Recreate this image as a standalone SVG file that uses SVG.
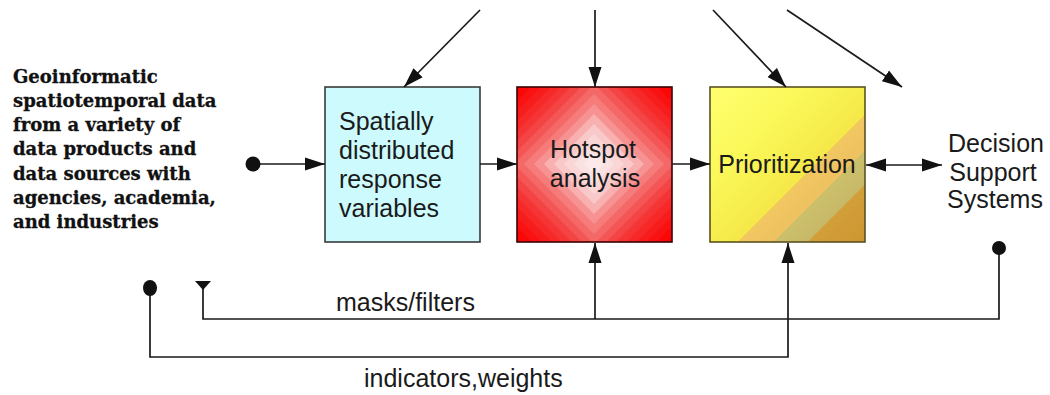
<svg xmlns="http://www.w3.org/2000/svg" width="1050" height="395" viewBox="0 0 1050 395">
  <style>
    .lbl { font-family: "Liberation Sans", Arial, sans-serif; font-size: 25px; fill: #1a1a1a; }
    .src { font-family: "DejaVu Serif", "Liberation Serif", serif; font-weight: bold; font-size: 18px; fill: #111; stroke: #111; stroke-width: 0.3; }
    .wire { fill: none; stroke: #1a1a1a; stroke-width: 1.7; }
    .box { stroke-width: 1.6; }
  </style>
  <defs>
    <marker id="arrow" markerUnits="userSpaceOnUse" markerWidth="21" markerHeight="14" refX="20" refY="7" orient="auto-start-reverse">
      <path d="M0,0.5 L20,7 L0,13.5 Z" fill="#111"/>
    </marker>
    <marker id="dot" markerUnits="userSpaceOnUse" markerWidth="18" markerHeight="18" refX="9" refY="9" orient="auto">
      <circle cx="9" cy="9" r="7.5" fill="#111"/>
    </marker>
    <clipPath id="hotClip">
      <rect x="517" y="87" width="155" height="155"/>
    </clipPath>
    <linearGradient id="priorFill" gradientUnits="userSpaceOnUse" x1="710" y1="87" x2="865" y2="242">
      <stop offset="0" stop-color="#ffff70"/>
      <stop offset="0.3" stop-color="#fbf85a"/>
      <stop offset="0.59" stop-color="#f4e848"/>
      <stop offset="0.59" stop-color="#f2c862"/>
      <stop offset="0.706" stop-color="#eec060"/>
      <stop offset="0.706" stop-color="#cbc06c"/>
      <stop offset="0.816" stop-color="#c8b868"/>
      <stop offset="0.816" stop-color="#d39f3a"/>
      <stop offset="1" stop-color="#cc9530"/>
    </linearGradient>
  </defs>

  <rect width="1050" height="395" fill="#ffffff"/>

  <!-- data source description -->
  <g id="node-source">
    <text class="src" x="13" y="83">Geoinformatic</text>
    <text class="src" x="13" y="107">spatiotemporal data</text>
    <text class="src" x="13" y="131">from a variety of</text>
    <text class="src" x="13" y="155">data products and</text>
    <text class="src" x="13" y="180">data sources with</text>
    <text class="src" x="13" y="204">agencies, academia,</text>
    <text class="src" x="13" y="228">and industries</text>
  </g>

  <!-- response variables box -->
  <g id="node-spatial">
    <rect class="box" x="325" y="87" width="155" height="155" fill="#cdfafd" stroke="#3a3a3a"/>
    <text class="lbl" x="339" y="130">Spatially</text>
    <text class="lbl" x="339" y="159">distributed</text>
    <text class="lbl" x="339" y="188">response</text>
    <text class="lbl" x="339" y="217">variables</text>
  </g>

  <!-- hotspot box: stepped diamond shading -->
  <g id="node-hotspot">
    <g clip-path="url(#hotClip)">
      <rect x="517" y="87" width="155" height="155" fill="#f80000"/>
      <polygon points="594,4 754,164 594,324 434,164" fill="#f80000"/>
      <polygon points="594,14 744,164 594,314 444,164" fill="#fa0808"/>
      <polygon points="594,24 734,164 594,304 454,164" fill="#fa1212"/>
      <polygon points="594,34 724,164 594,294 464,164" fill="#f81d1d"/>
      <polygon points="594,44 714,164 594,284 474,164" fill="#f62828"/>
      <polygon points="594,54 704,164 594,274 484,164" fill="#f53535"/>
      <polygon points="594,64 694,164 594,264 494,164" fill="#f44444"/>
      <polygon points="594,74 684,164 594,254 504,164" fill="#f45555"/>
      <polygon points="594,84 674,164 594,244 514,164" fill="#f56868"/>
      <polygon points="594,94 664,164 594,234 524,164" fill="#f67c7c"/>
      <polygon points="594,104 654,164 594,224 534,164" fill="#f79292"/>
      <polygon points="594,114 644,164 594,214 544,164" fill="#f8b0b0"/>
      <polygon points="594,124 634,164 594,204 554,164" fill="#f9c8c8"/>
      <polygon points="594,134 624,164 594,194 564,164" fill="#fad6d6"/>
      <polygon points="594,144 614,164 594,184 574,164" fill="#fbe2e2"/>
      <polygon points="594,154 604,164 594,174 584,164" fill="#fceaea"/>
    </g>
    <rect class="box" x="517" y="87" width="155" height="155" fill="none" stroke="#3a0000"/>
    <text class="lbl" x="593" y="158" text-anchor="middle">Hotspot</text>
    <text class="lbl" x="595" y="187" text-anchor="middle">analysis</text>
  </g>

  <!-- prioritization box -->
  <g id="node-prior">
    <rect class="box" x="710" y="87" width="155" height="155" fill="url(#priorFill)" stroke="#5a5220"/>
    <text class="lbl" x="787" y="173" text-anchor="middle">Prioritization</text>
  </g>

  <!-- decision support systems -->
  <g id="node-dss">
    <text class="lbl" x="996" y="152" text-anchor="middle">Decision</text>
    <text class="lbl" x="993" y="181" text-anchor="middle">Support</text>
    <text class="lbl" x="995" y="208" text-anchor="middle">Systems</text>
  </g>

  <!-- connectors -->
  <g id="connectors">
    <!-- external inputs from above -->
    <line class="wire" x1="480" y1="10" x2="404" y2="87" marker-end="url(#arrow)"/>
    <line class="wire" x1="595" y1="10" x2="595" y2="87" marker-end="url(#arrow)"/>
    <line class="wire" x1="713" y1="10" x2="786" y2="87" marker-end="url(#arrow)"/>
    <line class="wire" x1="787" y1="10" x2="902" y2="87" marker-end="url(#arrow)"/>

    <!-- main flow -->
    <line class="wire" x1="253" y1="164" x2="325" y2="164" marker-start="url(#dot)" marker-end="url(#arrow)"/>
    <line class="wire" x1="480" y1="164" x2="517" y2="164" marker-end="url(#arrow)"/>
    <line class="wire" x1="672" y1="164" x2="710" y2="164" marker-end="url(#arrow)"/>
    <line class="wire" x1="866" y1="165" x2="942" y2="165" marker-start="url(#arrow)" marker-end="url(#arrow)"/>

    <!-- masks/filters feedback -->
    <polyline class="wire" points="999,248 999,319 203,319 203,287"/>
    <circle cx="999" cy="248" r="7" fill="#111"/>
    <polygon points="195,281 211,281 203,290" fill="#111"/>
    <line class="wire" x1="595" y1="319" x2="595" y2="243" marker-end="url(#arrow)"/>

    <!-- indicators,weights feed -->
    <polyline class="wire" points="150,288 150,357 788,357 788,243" marker-end="url(#arrow)"/>
    <ellipse cx="150" cy="288" rx="7" ry="8" fill="#111"/>
  </g>

  <!-- connector labels -->
  <g id="labels">
    <text class="lbl" x="336" y="311">masks/filters</text>
    <text class="lbl" x="364" y="387">indicators,weights</text>
  </g>
</svg>
